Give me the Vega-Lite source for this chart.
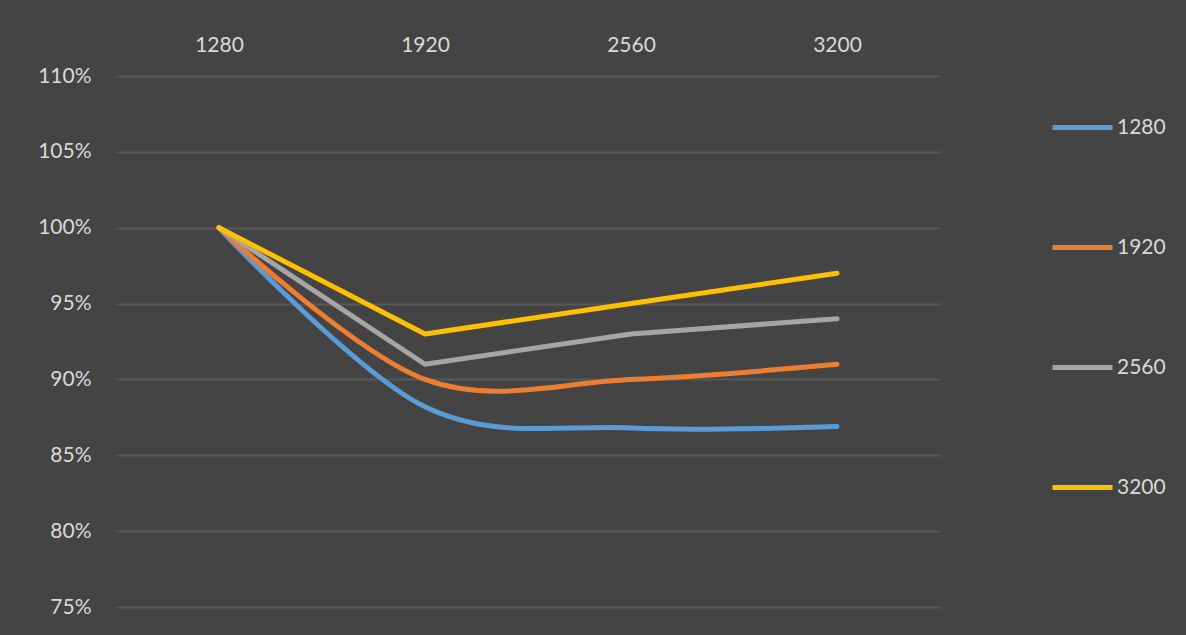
{
  "$schema": "https://vega.github.io/schema/vega-lite/v6.json",
  "width": 824,
  "height": 531,
  "autosize": {"type": "none"},
  "padding": {"left": 116, "top": 76, "right": 246, "bottom": 28},
  "background": "#444444",
  "config": {"view": {"stroke": null}, "font": "Lato"},
  "data": {"values": [
    {"x": "1280", "s": "1280", "v": 1.0},
    {"x": "1920", "s": "1280", "v": 0.882},
    {"x": "2560", "s": "1280", "v": 0.868},
    {"x": "3200", "s": "1280", "v": 0.869},
    {"x": "1280", "s": "1920", "v": 1.0},
    {"x": "1920", "s": "1920", "v": 0.9},
    {"x": "2560", "s": "1920", "v": 0.9},
    {"x": "3200", "s": "1920", "v": 0.91},
    {"x": "1280", "s": "2560", "v": 1.0},
    {"x": "1920", "s": "2560", "v": 0.91},
    {"x": "2560", "s": "2560", "v": 0.93},
    {"x": "3200", "s": "2560", "v": 0.94},
    {"x": "1280", "s": "3200", "v": 1.0},
    {"x": "1920", "s": "3200", "v": 0.93},
    {"x": "2560", "s": "3200", "v": 0.95},
    {"x": "3200", "s": "3200", "v": 0.97}
  ]},
  "encoding": {
    "x": {
      "field": "x", "type": "ordinal", "sort": ["1280", "1920", "2560", "3200"],
      "scale": {"type": "point", "padding": 0.5},
      "axis": {"orient": "top", "title": null, "labelAngle": 0, "domain": false, "ticks": false, "grid": false,
               "labelPadding": 21, "labelFontSize": 21, "labelColor": "#d9d9d9", "labelFont": "Lato"}
    },
    "y": {
      "field": "v", "type": "quantitative",
      "scale": {"domain": [0.75, 1.1], "nice": false, "zero": false},
      "axis": {"values": [0.75, 0.8, 0.85, 0.9, 0.95, 1.0, 1.05, 1.1], "format": ".0%", "title": null,
               "domain": false, "ticks": false, "grid": true, "gridColor": "#585858", "gridWidth": 2,
               "labelPadding": 25, "labelFontSize": 21, "labelColor": "#d9d9d9", "labelFont": "Lato"}
    },
    "color": {
      "field": "s", "type": "nominal", "sort": ["1280", "1920", "2560", "3200"],
      "scale": {"domain": ["1280", "1920", "2560", "3200"], "range": ["#5B9BD5", "#ED7D31", "#A5A5A5", "#FFC000"]},
      "legend": {"orient": "none", "legendX": 934, "legendY": 19, "title": null, "symbolType": "stroke",
                 "symbolSize": 3600, "symbolStrokeWidth": 5, "labelFontSize": 21, "labelColor": "#d9d9d9",
                 "labelFont": "Lato", "rowPadding": 77, "labelOffset": 2}
    }
  },
  "layer": [
    {
      "transform": [{"filter": {"field": "s", "oneOf": ["1280", "1920"]}}],
      "mark": {"type": "line", "interpolate": "cardinal", "strokeWidth": 5, "strokeCap": "round"}
    },
    {
      "transform": [{"filter": {"field": "s", "oneOf": ["2560", "3200"]}}],
      "mark": {"type": "line", "interpolate": "linear", "strokeWidth": 5, "strokeCap": "round", "strokeJoin": "round"}
    }
  ]
}
